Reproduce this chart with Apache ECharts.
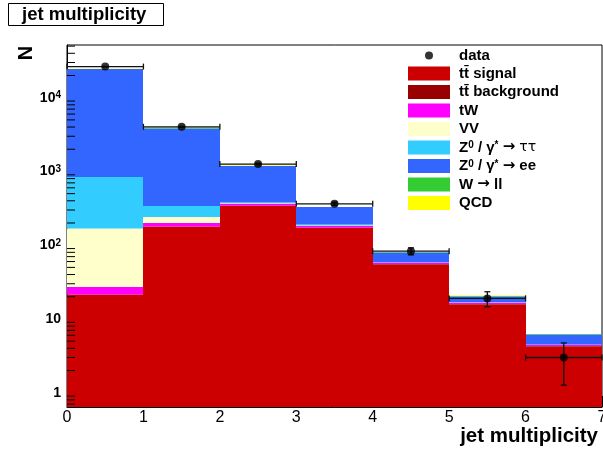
<!DOCTYPE html>
<html>
<head>
<meta charset="utf-8">
<script src="https://cdn.jsdelivr.net/npm/echarts@6/dist/echarts.min.js"></script>
<style>html,body{margin:0;padding:0;background:#fff}#c{width:603px;height:452px}</style>
</head>
<body>
<div id="c"></div>
<script>
// ---- data ----
const binEdges = [0, 1, 2, 3, 4, 5, 6, 7];
const xTickLabels = ['0', '1', '2', '3', '4', '5', '6', '7'];
const yTickValues = [1, 10, 100, 1000, 10000];
const seriesNames = ['ttsig', 'ttbkg', 'tW', 'VV', 'Ztt', 'Zee', 'Wll', 'QCD'];
const seriesLabels = ['tt\u0304 signal', 'tt\u0304 background', 'tW', 'VV',
  'Z{sup|0} / \u03b3{sup|*} {arr|\u2192} {gr|\u03c4\u03c4}', 'Z{sup|0} / \u03b3{sup|*} {arr|\u2192} ee', 'W {arr|\u2192} ll', 'QCD'];
const ttSignal     = [21, 176, 340, 172, 55, 15.7, 4.2];
const ttBackground = [0.3, 2, 5, 3, 1, 0.3, 0.1];
const tW           = [5.9, 23, 21, 8, 2, 0.5, 0.1];
const VV           = [140, 41, 5, 2, 0.5, 0.1, 0.02];
const Ztautau      = [676, 100, 15, 6, 1, 0.2, 0.05];
const Zee          = [23457, 3508, 799, 136, 20.5, 3.2, 1.7];
const Wll          = [300, 90, 8, 3, 1, 0.6, 0.05];
const QCD          = [400, 10, 2, 0.5, 0.2, 0.1, 0];
const dataCounts   = [26400, 4030, 1260, 364, 83, 19, 3];

// ---- styling ----
const colors = ['#cc0000', '#990000', '#ff00ff', '#ffffcc', '#33ccff', '#3366ff', '#33cc33', '#ffff00'];
const FONT = "'Liberation Sans', Arial, Helvetica, sans-serif";
const yMin = 0.64, yMax = 51800;

const mcValues = [ttSignal, ttBackground, tW, VV, Ztautau, Zee, Wll, QCD];
const cum = binEdges.slice(0, -1).map(() => 0);
const histSeries = mcValues.map((vals, si) => {
  const items = vals.map((v, i) => {
    const base = cum[i];
    cum[i] += v;
    return [binEdges[i], binEdges[i + 1], Math.max(base, yMin), cum[i]];
  });
  return {
    type: 'custom', name: seriesNames[si], clip: true, z: 2,
    itemStyle: { color: colors[si] },
    encode: { x: [0, 1], y: [2, 3] },
    data: items,
    renderItem: function (params, api) {
      const lo = api.value(0), hi = api.value(1), b = api.value(2), t = api.value(3);
      if (!(t > b)) return;
      const p1 = api.coord([lo, t]), p2 = api.coord([hi, b]);
      const x1 = Math.round(p1[0]), x2 = Math.round(p2[0]);
      const y1 = Math.round(p1[1] * 2) / 2, y2 = Math.round(p2[1] * 2) / 2;
      return { type: 'rect', shape: { x: x1, y: y1, width: x2 - x1, height: y2 - y1 },
        style: { fill: colors[si] } };
    }
  };
});

// minor ticks of the log axis (2..9 in each decade)
const yMinorTicks = [];
for (let d = -1; d <= 4; d++) for (let k = 2; k <= 9; k++) {
  const v = k * Math.pow(10, d);
  if (v > yMin && v < yMax) yMinorTicks.push(v);
}

const dataPoints = dataCounts.map((n, i) => [(binEdges[i] + binEdges[i + 1]) / 2, n]);
const errItems = dataCounts.map((n, i) => [binEdges[i], binEdges[i + 1], n, Math.sqrt(n)]);

const legendRich = {
  sup: { fontFamily: FONT, fontWeight: 'bold', fontSize: 10, verticalAlign: 'top', lineHeight: 14, color: '#000' },
  arr: { fontFamily: "'DejaVu Sans', sans-serif", fontSize: 15, lineHeight: 14, color: '#000' },
  gr: { fontFamily: "'DejaVu Sans', sans-serif", fontWeight: 'normal', fontSize: 14, lineHeight: 14, color: '#000' }
};

const chart = echarts.init(document.getElementById('c'), null, { renderer: 'canvas' });
chart.setOption({
  animation: false,
  backgroundColor: '#fff',
  title: {
    text: 'jet multiplicity', left: 8, top: 3, padding: [2, 17, 2, 14],
    borderColor: '#000', borderWidth: 1,
    textStyle: { fontFamily: FONT, fontWeight: 'bold', fontSize: 18.5, color: '#000' }
  },
  grid: { left: 67, right: 1, top: 45, bottom: 45, outerBoundsMode: 'none', containLabel: false,
    show: true, borderColor: '#000', borderWidth: 1, backgroundColor: 'transparent' },
  legend: [{
    orient: 'vertical', left: 408, top: 66, padding: 0, itemWidth: 42, itemHeight: 14, itemGap: 3.5,
    selectedMode: false, icon: 'rect',
    data: seriesNames,
    formatter: name => seriesLabels[seriesNames.indexOf(name)],
    textStyle: { fontFamily: FONT, fontWeight: 'bold', fontSize: 15, lineHeight: 14, color: '#000', padding: [0, 0, 0, 4],
      rich: legendRich }
  }, {
    orient: 'vertical', left: 425, top: 48, padding: 0, itemWidth: 8, itemHeight: 8,
    selectedMode: false,
    data: [{ name: 'data', icon: 'circle' }],
    textStyle: { fontFamily: FONT, fontWeight: 'bold', fontSize: 15, lineHeight: 14, color: '#000', padding: [0, 0, 0, 21] }
  }],
  xAxis: {
    type: 'value', min: 0, max: 7, interval: 1,
    name: 'jet multiplicity', nameLocation: 'end', nameGap: -4,
    nameTextStyle: { fontFamily: FONT, fontWeight: 'bold', fontSize: 20.5, color: '#000', align: 'right', verticalAlign: 'top', padding: [19, 0, 0, 0] },
    axisLine: { show: true, lineStyle: { color: '#000', width: 1 } },
    axisTick: { show: true, inside: true, length: 11, lineStyle: { color: '#000' } },
    minorTick: { show: true, splitNumber: 5, length: 5, lineStyle: { color: '#000' } },
    splitLine: { show: false },
    axisLabel: { margin: 3, fontFamily: FONT, fontSize: 16, color: '#000', formatter: v => xTickLabels[Math.round(v)] ?? '' }
  },
  yAxis: {
    type: 'log', logBase: 10, min: yMin, max: yMax,
    axisLine: { show: true, lineStyle: { color: '#000', width: 1 } },
    axisTick: { show: true, inside: true, length: 16, lineStyle: { color: '#000' } },
    splitLine: { show: false },
    axisLabel: {
      margin: 6, showMinLabel: false, showMaxLabel: false,
      fontFamily: FONT, fontWeight: 'bold', fontSize: 14, color: '#000',
      formatter: function (v) {
        const e = Math.round(Math.log10(v));
        if (Math.abs(Math.log10(v) - e) > 1e-6 || yTickValues.indexOf(Math.pow(10, e)) < 0) return '';
        if (e === 0) return '1';
        if (e === 1) return '10';
        return '10{sup|' + e + '}';
      },
      rich: { sup: { fontFamily: FONT, fontWeight: 'bold', fontSize: 10, verticalAlign: 'top', color: '#000' } }
    }
  },
  graphic: [{
    type: 'text', x: 26, y: 53, rotation: Math.PI / 2,
    style: { text: 'N', font: 'bold 20px ' + FONT, fill: '#000', align: 'center', verticalAlign: 'middle' }
  }],
  series: histSeries.concat([
    {
      type: 'custom', name: 'yminor', z: 5, silent: true,
      data: yMinorTicks.map(v => [0, v]),
      renderItem: function (params, api) {
        const p = api.coord([0, api.value(1)]);
        return { type: 'line', shape: { x1: p[0], y1: p[1], x2: p[0] + 8, y2: p[1] }, style: { stroke: '#000', lineWidth: 1 } };
      }
    },
    {
      type: 'custom', name: 'errors', z: 8, silent: true,
      encode: { x: [0, 1], y: 2 },
      data: errItems,
      renderItem: function (params, api) {
        const lo = api.value(0), hi = api.value(1), n = api.value(2), s = api.value(3);
        const pl = api.coord([lo, n]), ph = api.coord([hi, n]);
        const cx = (pl[0] + ph[0]) / 2;
        const pt = api.coord([(lo + hi) / 2, n + s]);
        const pb = api.coord([(lo + hi) / 2, Math.max(n - s, yMin * 0.5)]);
        const st = { stroke: '#111', lineWidth: 1.3 };
        const c = 3;
        return { type: 'group', children: [
          { type: 'line', shape: { x1: pl[0], y1: pl[1], x2: ph[0], y2: ph[1] }, style: st },
          { type: 'line', shape: { x1: pl[0], y1: pl[1] - c, x2: pl[0], y2: pl[1] + c }, style: st },
          { type: 'line', shape: { x1: ph[0], y1: ph[1] - c, x2: ph[0], y2: ph[1] + c }, style: st },
          { type: 'line', shape: { x1: cx, y1: pt[1], x2: cx, y2: pb[1] }, style: st },
          { type: 'line', shape: { x1: cx - c, y1: pt[1], x2: cx + c, y2: pt[1] }, style: st },
          { type: 'line', shape: { x1: cx - c, y1: pb[1], x2: cx + c, y2: pb[1] }, style: st }
        ] };
      }
    },
    {
      type: 'scatter', name: 'data', z: 10, symbol: 'circle', symbolSize: 8,
      itemStyle: { color: '#000' },
      data: dataPoints
    }
  ])
});
</script>
</body>
</html>
